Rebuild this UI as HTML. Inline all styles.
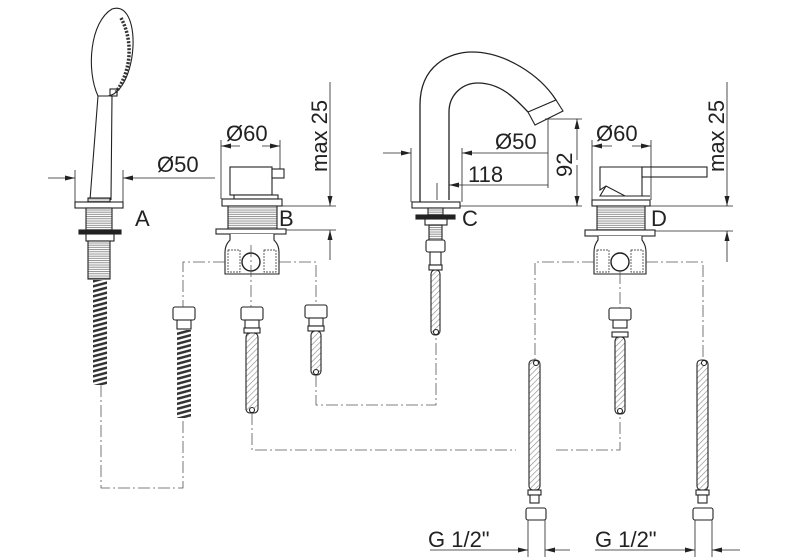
<!DOCTYPE html>
<html><head><meta charset="utf-8"><style>
html,body{margin:0;padding:0;background:#fff}
svg{display:block}
text{font-family:"Liberation Sans",sans-serif;fill:#222}
</style></head><body>
<svg width="800" height="557" viewBox="0 0 800 557" xmlns="http://www.w3.org/2000/svg">
<defs>
<pattern id="thr" width="4" height="2.2" patternUnits="userSpaceOnUse"><rect width="4" height="2.2" fill="#fff"/><line x1="0" y1="1" x2="4" y2="1" stroke="#777" stroke-width="0.8"/></pattern>
<pattern id="brd" width="4" height="4" patternUnits="userSpaceOnUse" patternTransform="rotate(45)"><rect width="4" height="4" fill="#fff"/><line x1="0" y1="0" x2="0" y2="4" stroke="#888" stroke-width="1.2"/></pattern>
<pattern id="spr" width="14" height="5" patternUnits="userSpaceOnUse" patternTransform="skewY(-15)"><rect width="14" height="5" fill="#fff"/><rect y="0" width="14" height="2.6" fill="#333"/></pattern>
<marker id="ar" markerWidth="10" markerHeight="6" refX="10" refY="3" orient="auto" markerUnits="userSpaceOnUse"><path d="M0,0.5 L10,3 L0,5.5z" fill="#222"/></marker>
</defs>
<g fill="none" stroke="#222" stroke-width="1.1">
<!-- ===== A shower ===== -->
<path d="M98,96 C86,70 90,22 112,9 C132,2 138,40 129,70 C124,86 116,95 108,96 Z" fill="#fff"/>
<path d="M121,18 C133,40 132,70 116,92" stroke="#333" stroke-width="3.5" stroke-dasharray="2 1.5"/>
<rect x="110" y="89" width="7" height="7"/>
<path d="M98,96 L90,200 M112,96 L111,200"/>
<rect x="75" y="202" width="48" height="6" fill="#fff"/>
<rect x="88" y="198" width="22" height="4" fill="url(#thr)"/>
<rect x="86" y="208" width="26" height="22" fill="url(#thr)"/>
<rect x="79" y="230" width="42" height="4" fill="#222"/>
<rect x="86" y="234" width="28" height="7" fill="#fff"/>
<rect x="88" y="241" width="22" height="38" fill="url(#thr)"/>
<rect x="93" y="280" width="14" height="105" fill="url(#spr)" stroke="none"/>
<!-- hose 2 -->
<rect x="173" y="307" width="22" height="13" rx="2" fill="#fff"/>
<rect x="177" y="320" width="14" height="9" fill="#fff"/>
<rect x="177" y="330" width="14" height="88" fill="url(#spr)" stroke="none"/>
<!-- Ø50 A -->
<g stroke-width="0.8">
<line x1="75" y1="170" x2="75" y2="202"/><line x1="123" y1="170" x2="123" y2="202"/>
<line x1="48" y1="178" x2="75" y2="178" marker-end="url(#ar)"/>
<line x1="215" y1="178" x2="123" y2="178" marker-end="url(#ar)"/>
</g>
<!-- ===== B ===== -->
<rect x="230" y="167" width="42" height="28" fill="#fff"/>
<rect x="272" y="169" width="12" height="9" fill="#fff"/>
<rect x="234" y="195" width="44" height="4" fill="#fff"/>
<rect x="222" y="199" width="60" height="7" fill="#fff"/>
<rect x="228" y="206" width="49" height="23" fill="url(#thr)"/>
<rect x="216" y="229" width="70" height="5" fill="#fff"/>
<path d="M230,234 L230,240 C226,244 225,248 225,252 L225,274 L279,274 L279,252 C279,248 278,244 274,240 L274,234" fill="#fff"/>
<rect x="228" y="250" width="12" height="22" stroke-dasharray="2 1" stroke-width="0.7"/>
<rect x="264" y="250" width="12" height="22" stroke-dasharray="2 1" stroke-width="0.7"/>
<circle cx="251" cy="262" r="9" stroke-width="1.4"/>
<g stroke-width="0.8">
<line x1="221" y1="140" x2="221" y2="199"/><line x1="280" y1="140" x2="280" y2="169"/>
<line x1="240" y1="146" x2="221" y2="146" marker-end="url(#ar)"/>
<line x1="262" y1="146" x2="280" y2="146" marker-end="url(#ar)"/>
<line x1="282" y1="206" x2="336" y2="206"/><line x1="286" y1="230" x2="336" y2="230"/>
<line x1="330" y1="82" x2="330" y2="206" marker-end="url(#ar)"/>
<line x1="330" y1="260" x2="330" y2="230" marker-end="url(#ar)"/>
</g>
<!-- B hoses -->
<rect x="241" y="307" width="22" height="13" rx="2" fill="#fff"/>
<rect x="245" y="320" width="14" height="8" fill="#fff"/>
<rect x="244" y="328" width="16" height="5" fill="#fff"/>
<rect x="246" y="333" width="12" height="80" rx="4" fill="url(#brd)"/>
<circle cx="252" cy="410" r="2.5" fill="#fff"/>
<rect x="305" y="305" width="22" height="13" rx="2" fill="#fff"/>
<rect x="309" y="318" width="14" height="8" fill="#fff"/>
<rect x="308" y="326" width="16" height="5" fill="#fff"/>
<rect x="311" y="331" width="10" height="44" rx="4" fill="url(#brd)"/>
<circle cx="316" cy="372" r="2.5" fill="#fff"/>
<!-- ===== C spout ===== -->
<path d="M420,202 L420,105 C420,65 450,52 472,52 C505,52 540,75 556,100" stroke-width="1.3"/>
<path d="M449,200 L449,112 C449,95 462,83 478,83 C500,83 515,98 528,112" stroke-width="1.3"/>
<path d="M528,112 L556,100 L563,111 L535,125 Z" fill="#fff"/>
<rect x="412" y="202" width="48" height="6" fill="#fff"/>
<rect x="428" y="208" width="15" height="7" fill="url(#thr)"/>
<rect x="416" y="215" width="39" height="4" fill="#222"/>
<rect x="425" y="219" width="22" height="6" fill="#fff"/>
<rect x="429" y="225" width="13" height="15" fill="url(#thr)"/>
<rect x="426" y="240" width="19" height="12" rx="2" fill="#fff"/>
<rect x="430" y="252" width="11" height="13" fill="#fff"/>
<rect x="429" y="265" width="13" height="5" fill="#fff"/>
<rect x="431" y="270" width="9" height="65" rx="4" fill="url(#brd)"/>
<circle cx="436" cy="332" r="2.5" fill="#fff"/>
<g stroke-width="0.8">
<line x1="411" y1="148" x2="411" y2="202"/><line x1="462" y1="148" x2="462" y2="202"/>
<line x1="383" y1="153" x2="411" y2="153" marker-end="url(#ar)"/>
<line x1="548" y1="153" x2="462" y2="153" marker-end="url(#ar)"/>
<line x1="437" y1="183" x2="437" y2="200"/>
<line x1="548" y1="185" x2="449" y2="185" marker-end="url(#ar)"/>
<line x1="548" y1="118" x2="548" y2="188"/>
<line x1="545" y1="119" x2="582" y2="119"/><line x1="460" y1="206" x2="582" y2="206"/>
<line x1="577" y1="160" x2="577" y2="119" marker-end="url(#ar)"/>
<line x1="577" y1="165" x2="577" y2="206" marker-end="url(#ar)"/>
</g>
<!-- ===== D ===== -->
<path d="M600,167 L642,167 L642,196 L625,196 L606,186 L600,190 Z" fill="#fff"/>
<path d="M606,186 L600,196 L650,196" />
<rect x="642" y="167" width="65" height="10" fill="#fff"/>
<rect x="592" y="200" width="58" height="6" fill="#fff"/>
<rect x="597" y="206" width="48" height="24" fill="url(#thr)"/>
<rect x="585" y="230" width="70" height="6" fill="#fff"/>
<path d="M598,236 L598,240 C595,244 594,248 594,252 L594,274 L646,274 L646,252 C646,248 645,244 642,240 L642,236" fill="#fff"/>
<rect x="597" y="250" width="12" height="22" stroke-dasharray="2 1" stroke-width="0.7"/>
<rect x="631" y="250" width="12" height="22" stroke-dasharray="2 1" stroke-width="0.7"/>
<circle cx="620" cy="262" r="9" stroke-width="1.4"/>
<g stroke-width="0.8">
<line x1="592" y1="140" x2="592" y2="200"/><line x1="651" y1="140" x2="651" y2="200"/>
<line x1="612" y1="146" x2="592" y2="146" marker-end="url(#ar)"/>
<line x1="632" y1="146" x2="651" y2="146" marker-end="url(#ar)"/>
<line x1="650" y1="206" x2="733" y2="206"/><line x1="655" y1="231" x2="733" y2="231"/>
<line x1="727" y1="82" x2="727" y2="206" marker-end="url(#ar)"/>
<line x1="727" y1="262" x2="727" y2="231" marker-end="url(#ar)"/>
</g>
<!-- D hose -->
<rect x="609" y="308" width="22" height="12" rx="2" fill="#fff"/>
<rect x="613" y="320" width="14" height="8" fill="#fff"/>
<rect x="612" y="332" width="16" height="5" fill="#fff"/>
<rect x="615" y="337" width="10" height="77" rx="4" fill="url(#brd)"/>
<circle cx="620" cy="411" r="2.5" fill="#fff"/>
<!-- long hoses -->
<g>
<rect x="529" y="360" width="11" height="130" rx="4" fill="url(#brd)"/>
<circle cx="536" cy="363" r="2.5" fill="#fff"/>
<rect x="528" y="490" width="13" height="5" fill="#fff"/>
<rect x="530" y="495" width="9" height="8" fill="#fff"/>
<rect x="526" y="508" width="20" height="12" rx="2" fill="#fff"/>
<rect x="697" y="360" width="11" height="130" rx="4" fill="url(#brd)"/>
<circle cx="704" cy="363" r="2.5" fill="#fff"/>
<rect x="696" y="490" width="13" height="5" fill="#fff"/>
<rect x="698" y="495" width="9" height="8" fill="#fff"/>
<rect x="693" y="508" width="20" height="12" rx="2" fill="#fff"/>
</g>
<g stroke-width="0.8">
<line x1="528" y1="520" x2="528" y2="557"/><line x1="545" y1="520" x2="545" y2="557"/>
<line x1="430" y1="550" x2="528" y2="550" marker-end="url(#ar)"/>
<line x1="570" y1="550" x2="545" y2="550" marker-end="url(#ar)"/>
<line x1="695" y1="520" x2="695" y2="557"/><line x1="712" y1="520" x2="712" y2="557"/>
<line x1="595" y1="550" x2="695" y2="550" marker-end="url(#ar)"/>
<line x1="740" y1="550" x2="712" y2="550" marker-end="url(#ar)"/>
</g>
</g>
<!-- dash-dot lines -->
<g fill="none" stroke="#555" stroke-width="0.8" stroke-dasharray="12 3 2 3">
<path d="M101,385 L101,488 L183,488 L183,418"/>
<path d="M225,262 L183,262 L183,307"/>
<path d="M279,262 L316,262 L316,305"/>
<path d="M251,245 L251,307"/>
<path d="M316,375 L316,405 L436,405 L436,335"/>
<path d="M252,413 L252,450 L516,450 M556,450 L620,450 L620,414"/>
<path d="M594,262 L535,262 L535,360"/>
<path d="M646,262 L703,262 L703,360"/>
<path d="M620,272 L620,308"/>
</g>
<g font-size="22">
<text x="157" y="172">Ø50</text>
<text x="226" y="141">Ø60</text>
<text x="495" y="149">Ø50</text>
<text x="468" y="182">118</text>
<text x="596" y="141">Ø60</text>
<text x="135" y="226">A</text>
<text x="279" y="226">B</text>
<text x="462" y="226">C</text>
<text x="651" y="226">D</text>
<text x="428" y="547">G 1/2"</text>
<text x="595" y="547">G 1/2"</text>
<text transform="translate(327,172) rotate(-90)">max 25</text>
<text transform="translate(724,172) rotate(-90)">max 25</text>
<text transform="translate(572,177) rotate(-90)">92</text>
</g>
</svg>
</body></html>
